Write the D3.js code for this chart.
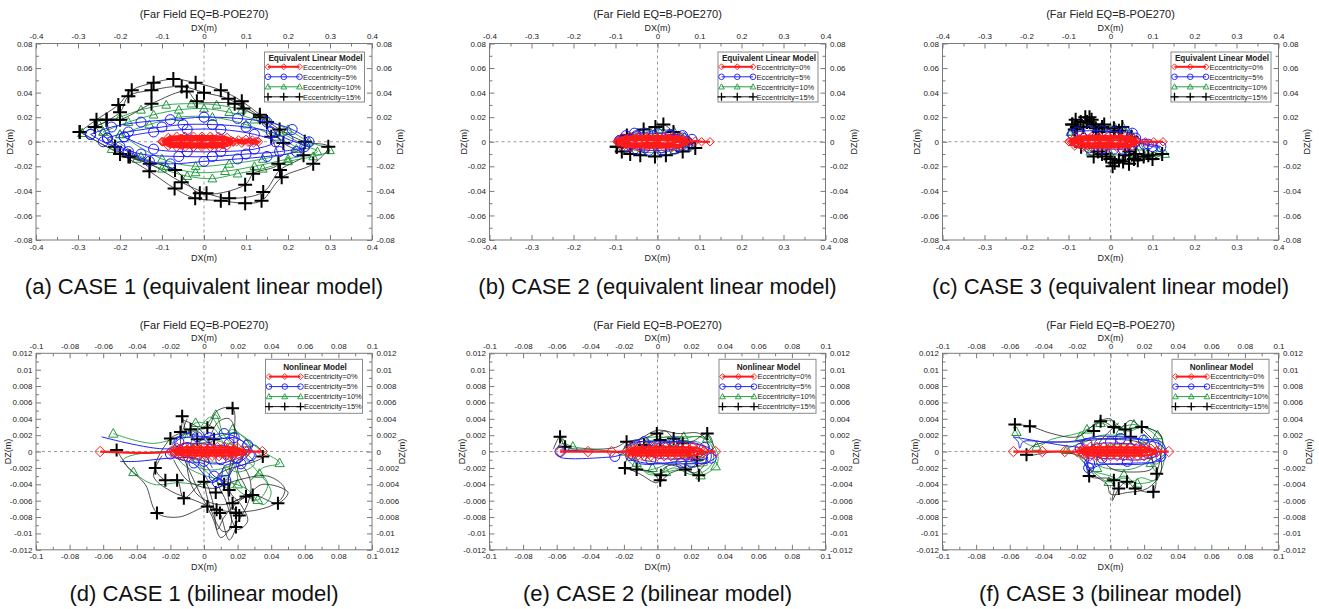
<!DOCTYPE html>
<html>
<head>
<meta charset="utf-8">
<script src="https://cdn.jsdelivr.net/npm/d3@7"></script>
<style>
  body { margin: 0; background: #fff; }
  svg { font-family: Arial, "Liberation Sans", sans-serif; }
</style>
</head>
<body>
<div id="chart"></div>
<script>
// ---- text ----
const figTitle = "(Far Field EQ=B-POE270)";
const captions = [
  "(a) CASE 1 (equivalent linear model)", "(b) CASE 2 (equivalent linear model)", "(c) CASE 3 (equivalent linear model)",
  "(d) CASE 1 (bilinear model)", "(e) CASE 2 (bilinear model)", "(f) CASE 3 (bilinear model)"
];
const legendTitles = ["Equivalent Linear Model", "Nonlinear Model"];
const seriesLabels = ["Eccentricity=0%", "Eccentricity=5%", "Eccentricity=10%", "Eccentricity=15%"];
const xLabel = "DX(m)", yLabel = "DZ(m)";

// ---- ticks ----
const xMajorEq = [-0.4, -0.3, -0.2, -0.1, 0, 0.1, 0.2, 0.3, 0.4];
const xMinorEq = [-0.35, -0.25, -0.15, -0.05, 0.05, 0.15, 0.25, 0.35];
const yMajorEq = [-0.08, -0.06, -0.04, -0.02, 0, 0.02, 0.04, 0.06, 0.08];
const yMinorEq = [-0.07, -0.05, -0.03, -0.01, 0.01, 0.03, 0.05, 0.07];
const xMajorNl = [-0.1, -0.08, -0.06, -0.04, -0.02, 0, 0.02, 0.04, 0.06, 0.08, 0.1];
const xMinorNl = [-0.09, -0.07, -0.05, -0.03, -0.01, 0.01, 0.03, 0.05, 0.07, 0.09];
const yMajorNl = [-0.012, -0.01, -0.008, -0.006, -0.004, -0.002, 0, 0.002, 0.004, 0.006, 0.008, 0.01, 0.012];
const yMinorNl = [-0.011, -0.009, -0.007, -0.005, -0.003, -0.001, 0.001, 0.003, 0.005, 0.007, 0.009, 0.011];

// ---- CASE 1, equivalent linear (DX, DZ in m) ----
const e1Red = [
  [[-0.1,0],[-0.085,0.0035],[-0.065,0.0045],[-0.045,0.0045],[-0.025,0.0045],[-0.005,0.0045],[0.015,0.0045],[0.035,0.0045],[0.055,0.0035],[0.07,0],
   [0.055,-0.0035],[0.035,-0.0045],[0.015,-0.0045],[-0.005,-0.0045],[-0.025,-0.0045],[-0.045,-0.0045],[-0.065,-0.0045],[-0.085,-0.0035],[-0.098,0],
   [-0.08,0.0022],[-0.055,0.0028],[-0.03,0.0028],[-0.005,0.0028],[0.02,0.0028],[0.045,0.0025],[0.065,0.001],[0.045,-0.0025],[0.02,-0.0028],
   [-0.005,-0.0028],[-0.03,-0.0028],[-0.055,-0.0028],[-0.08,-0.0022],[-0.095,0],[-0.07,0.001],[-0.04,0.0012],[-0.01,0.0012],[0.02,0.0012],
   [0.05,0.001],[0.068,0],[0.05,-0.001],[0.02,-0.0012],[-0.01,-0.0012],[-0.04,-0.0012],[-0.07,-0.001],[-0.1,0]],
  [[0.07,0],[0.082,0.0015],[0.092,0.0005],[0.1,0.002],[0.108,0],[0.115,0.0015],[0.125,0.0005],[0.13,0],[0.118,-0.001],[0.105,-0.0005],[0.09,-0.0012],[0.078,0]]
];
const e1Blue = [
  [[-0.27,0.006],[-0.22,0.012],[-0.15,0.016],[-0.08,0.018],[0,0.02],[0.08,0.019],[0.15,0.016],[0.21,0.01],[0.25,0],[0.22,-0.008],
   [0.15,-0.012],[0.08,-0.014],[0,-0.016],[-0.08,-0.018],[-0.13,-0.016],[-0.18,-0.008],[-0.24,0],[-0.27,0.006]],
  [[-0.23,0.003],[-0.18,0.008],[-0.1,0.012],[-0.05,0.014],[0.02,0.014],[0.1,0.012],[0.16,0.008],[0.2,0.002],[0.24,-0.004],[0.18,-0.008],
   [0.1,-0.01],[0.02,-0.012],[-0.06,-0.012],[-0.15,-0.01],[-0.2,-0.004],[-0.23,0.003]],
  [[-0.19,0.004],[-0.12,0.008],[-0.04,0.01],[0.04,0.01],[0.12,0.006],[0.17,0],[0.12,-0.006],[0.04,-0.008],[-0.04,-0.008],[-0.12,-0.006],[-0.19,0.004]]
];
const e1Green = [
  [[-0.29,0.007],[-0.25,0.014],[-0.2,0.02],[-0.15,0.026],[-0.09,0.03],[-0.03,0.031],[0.03,0.03],[0.09,0.026],[0.15,0.018],[0.2,0.01],[0.25,0],
   [0.3,-0.007],[0.26,-0.012],[0.2,-0.016],[0.14,-0.022],[0.08,-0.026],[0.02,-0.03],[-0.04,-0.028],[-0.1,-0.022],[-0.16,-0.014],[-0.22,-0.006],[-0.29,0.007]],
  [[-0.24,0.008],[-0.18,0.016],[-0.12,0.022],[-0.06,0.026],[0,0.027],[0.06,0.024],[0.12,0.018],[0.18,0.008],[0.24,-0.003],[0.27,-0.008],
   [0.2,-0.014],[0.12,-0.02],[0.05,-0.024],[-0.02,-0.025],[-0.09,-0.02],[-0.15,-0.012],[-0.24,0.008]],
  [[-0.2,0.006],[-0.13,0.014],[-0.06,0.02],[0.02,0.02],[0.1,0.014],[0.17,0.004],[0.22,-0.006],[0.14,-0.014],[0.06,-0.018],[-0.02,-0.02],[-0.1,-0.014],[-0.2,0.006]]
];
const e1Black = [
  [[-0.296,0.008],[-0.256,0.018],[-0.204,0.03],[-0.172,0.042],[-0.12,0.048],[-0.073,0.051],[-0.02,0.048],[0.04,0.042],[0.09,0.033],[0.133,0.022],
   [0.18,0.01],[0.24,0],[0.296,-0.004],[0.26,-0.018],[0.185,-0.029],[0.137,-0.048],[0.098,-0.05],[0.04,-0.048],[-0.021,-0.046],[-0.07,-0.038],
   [-0.13,-0.024],[-0.2,-0.01],[-0.296,0.008]],
  [[-0.26,0.012],[-0.2,0.024],[-0.18,0.037],[-0.125,0.042],[-0.053,0.045],[0,0.04],[0.058,0.035],[0.094,0.027],[0.15,0.016],[0.189,-0.001],
   [0.237,-0.011],[0.181,-0.023],[0.141,-0.041],[0.06,-0.046],[0.006,-0.042],[-0.053,-0.033],[-0.129,-0.018],[-0.18,-0.012],[-0.26,0.012]],
  [[-0.232,0.018],[-0.2,0.018],[-0.125,0.031],[-0.041,0.041],[-0.017,0.033],[0.073,0.031],[0.133,0.02],[0.16,0.004],[0.177,-0.018],[0.117,-0.026],
   [0.098,-0.035],[-0.01,-0.042],[-0.069,-0.023],[-0.176,-0.012],[-0.212,-0.004],[-0.232,0.018]]
];

// ---- CASE 2, equivalent linear ----
const e2Red = [
  [[-0.097,0],[-0.085,0.0035],[-0.065,0.0045],[-0.045,0.0045],[-0.025,0.0045],[-0.005,0.0045],[0.015,0.0045],[0.035,0.0045],[0.055,0.004],[0.074,0],
   [0.055,-0.004],[0.035,-0.0045],[0.015,-0.0045],[-0.005,-0.0045],[-0.025,-0.0045],[-0.045,-0.0045],[-0.065,-0.0045],[-0.085,-0.0035],[-0.095,0],
   [-0.075,0.0025],[-0.05,0.003],[-0.025,0.003],[0,0.003],[0.025,0.003],[0.05,0.0025],[0.07,0.001],[0.05,-0.0025],[0.025,-0.003],[0,-0.003],
   [-0.025,-0.003],[-0.05,-0.003],[-0.075,-0.0025],[-0.09,0],[-0.06,0.0012],[-0.03,0.0012],[0,0.0012],[0.03,0.0012],[0.06,0.001],[0.03,-0.0012],
   [0,-0.0012],[-0.03,-0.0012],[-0.06,-0.0012],[-0.093,0]],
  [[0.074,0],[0.09,0.0005],[0.105,0],[0.125,0]]
];
const e2Blue = [
  [[-0.09,0.001],[-0.075,0.005],[-0.055,0.007],[-0.03,0.007],[0,0.007],[0.03,0.006],[0.06,0.005],[0.082,0.002],[0.07,-0.003],[0.04,-0.006],
   [0.01,-0.007],[-0.02,-0.007],[-0.05,-0.006],[-0.075,-0.004],[-0.09,0.001]],
  [[-0.08,0.002],[-0.05,0.005],[-0.01,0.005],[0.03,0.005],[0.06,0.003],[0.07,0],[0.05,-0.004],[0.01,-0.005],[-0.03,-0.005],[-0.065,-0.003],[-0.08,0.002]]
];
const e2Green = [
  [[-0.085,-0.002],[-0.07,0.004],[-0.04,0.007],[-0.01,0.009],[0.01,0.01],[0.04,0.008],[0.065,0.004],[0.075,-0.002],[0.07,-0.005],[0.04,-0.007],
   [0,-0.009],[-0.04,-0.008],[-0.07,-0.005],[-0.085,-0.002]]
];
const e2Black = [
  [[-0.097,-0.004],[-0.073,0.005],[-0.033,0.01],[-0.005,0.012],[0.014,0.014],[0.038,0.008],[0.074,-0.001],[0.09,-0.005],[0.06,-0.008],
   [0.02,-0.011],[-0.006,-0.012],[-0.041,-0.011],[-0.065,-0.01],[-0.085,-0.008],[-0.097,-0.004]]
];

// ---- CASE 3, equivalent linear ----
const e3Red = [
  [[-0.099,0],[-0.085,0.0035],[-0.065,0.0045],[-0.045,0.0045],[-0.025,0.0045],[-0.005,0.0045],[0.015,0.0045],[0.035,0.0045],[0.052,0.0035],[0.063,0],
   [0.052,-0.0035],[0.035,-0.0045],[0.015,-0.0045],[-0.005,-0.0045],[-0.025,-0.0045],[-0.045,-0.0045],[-0.065,-0.0045],[-0.085,-0.0035],[-0.094,0],
   [-0.074,0.0025],[-0.05,0.003],[-0.025,0.003],[0,0.003],[0.025,0.003],[0.05,0.002],[0.06,0.001],[0.045,-0.0025],[0.02,-0.003],[-0.005,-0.003],
   [-0.03,-0.003],[-0.055,-0.003],[-0.074,-0.002],[-0.09,0],[-0.06,0.0012],[-0.03,0.0012],[0,0.0012],[0.03,0.0012],[0.055,0.001],[0.03,-0.0012],
   [0,-0.0012],[-0.03,-0.0012],[-0.06,-0.0012],[-0.099,0]],
  [[0.063,0],[0.083,0],[0.103,0],[0.125,0]]
];
const e3Blue = [
  [[-0.09,0.006],[-0.079,0.008],[-0.05,0.009],[-0.02,0.009],[0.01,0.008],[0.035,0.008],[0.052,0.007],[0.06,0.003],[0.05,-0.003],[0.03,-0.006],
   [0.008,-0.006],[-0.02,-0.006],[-0.05,-0.005],[-0.075,-0.001],[-0.09,0.006]],
  [[0.05,0],[0.08,-0.002],[0.1,-0.004],[0.12,-0.004],[0.09,-0.002],[0.06,0]]
];
const e3Green = [
  [[-0.095,0.008],[-0.08,0.013],[-0.05,0.015],[-0.02,0.013],[0.01,0.012],[0.03,0.012],[0.05,0.006],[0.07,-0.004],[0.087,-0.01],[0.115,-0.008],
   [0.13,-0.01],[0.1,-0.012],[0.06,-0.013],[0.04,-0.012],[0,-0.01],[-0.048,-0.008],[-0.07,-0.002],[-0.095,0.008]]
];
const e3Black = [
  [[-0.091,0.014],[-0.083,0.018],[-0.071,0.016],[-0.056,0.016],[-0.04,0.014],[-0.028,0.008],[0.008,0.011],[0.028,0.012],[0.05,0.004],[0.079,-0.012],
   [0.123,-0.01],[0.1,-0.014],[0.056,-0.014],[0.044,-0.018],[0.02,-0.015],[0,-0.014],[-0.02,-0.01],[-0.04,-0.012],[-0.07,-0.004],[-0.091,0.014]],
  [[-0.08,0.012],[-0.06,0.02],[-0.045,0.018],[-0.02,0.012],[0.01,0.008],[0.04,0.002],[0.06,-0.01],[0.03,-0.016],[0.01,-0.017],[-0.01,-0.012]],
  [[-0.085,0.01],[-0.065,0.012],[-0.05,0.02],[-0.035,0.011],[-0.015,0.014],[0.02,0.009],[0.045,-0.008],[0.065,-0.015],[0.09,-0.011],[0.035,-0.011],[0.005,-0.02],[-0.03,-0.008]]
];

// ---- CASE 1, bilinear ----
const n1Red = [
  [[-0.0618,0],[-0.0195,0],[-0.016,0.0004],[-0.012,0.0005],[-0.008,0.0005],[-0.004,0.0005],[0,0.0005],[0.004,0.0005],[0.008,0.0005],[0.012,0.0005],
   [0.016,0.0005],[0.02,0.0004],[0.0253,0],[0.021,-0.0004],[0.017,-0.0005],[0.013,-0.0005],[0.009,-0.0005],[0.005,-0.0005],[0.001,-0.0005],
   [-0.003,-0.0005],[-0.007,-0.0005],[-0.011,-0.0005],[-0.015,-0.0004],[-0.018,0],[-0.014,0.0002],[-0.01,0.0002],[-0.006,0.0002],[-0.002,0.0002],
   [0.002,0.0002],[0.006,0.0002],[0.01,0.0002],[0.014,0.0002],[0.018,0.0002],[0.022,0],[0.018,-0.0002],[0.014,-0.0002],[0.01,-0.0002],
   [0.006,-0.0002],[0.002,-0.0002],[-0.002,-0.0002],[-0.006,-0.0002],[-0.01,-0.0002],[-0.014,-0.0002],[-0.017,0],[0.0253,0],[0.0347,0]]
];
const n1Blue = [
  [[-0.061,0.0018],[-0.02,0.0004],[-0.015,0.0015],[-0.005,0.0018],[0.003,0.0017],[0.01,0.0016],[0.018,0.0017],[0.026,0.0008],[0.03,-0.0005],
   [0.025,-0.0015],[0.018,-0.002],[0.013,-0.0035],[0.006,-0.003],[0,-0.0015],[-0.01,-0.0012],[-0.02,-0.0003],[-0.015,0.0008],[-0.005,0.001],
   [0.005,0.0008],[0.015,0.0006],[0.025,-0.0002],[0.015,-0.0012],[0.005,-0.0015],[-0.005,-0.0008],[-0.02,-0.0008],[-0.04,-0.0012],[-0.05,-0.0012]],
  [[-0.018,0.001],[-0.012,0.0022],[0,0.0018],[0.012,0.0022],[0.022,0.0014],[0.027,0],[0.022,-0.0012],[0.012,-0.0018],[0.01,-0.0032],
   [0.004,-0.0038],[0,-0.0028],[-0.006,-0.0015],[-0.016,-0.0008],[-0.02,0]]
];
const n1BlueMarks = [[-0.02,-0.0003],[0.003,0.0017],[0.018,0.0017],[0.013,-0.0035],[0.006,-0.003],[0.026,0.0008],[0.01,-0.001],[-0.01,0.0005],
  [0.022,-0.0015],[0,-0.0012],[0.015,0.001],[-0.015,0.0012],[0.008,-0.0038],[0.028,-0.0005],[-0.006,-0.0014],[0.012,0.0022],[-0.004,0.0018],[0.02,-0.0008]];
const n1Green = [
  [[-0.054,0.0022],[-0.03,0.001],[-0.01,0.0022],[0,0.003],[0.007,0.0045],[0.012,0.002],[0.017,0.0027],[0.025,0.0015],[0.035,0],[0.045,-0.0014],
   [0.035,-0.002],[0.028,-0.0035],[0.033,-0.0027],[0.038,-0.004],[0.032,-0.0059],[0.022,-0.005],[0.012,-0.003],[0,-0.004],[-0.015,-0.0038],
   [-0.03,-0.004],[-0.042,-0.0025],[-0.048,-0.001],[-0.02,0],[-0.005,-0.001],[0.01,-0.0015],[0.02,-0.0025],[0.03,-0.0015],[0.02,0.0005],
   [0.01,0.0012],[0,0.0015],[-0.01,0],[0,-0.0022],[0.015,-0.0045],[0.02,-0.0035],[0.012,0.0008],[0.005,0.003],[-0.005,0.0035],[-0.012,0.0015]],
  [[-0.02,0.002],[-0.015,-0.001],[-0.005,-0.0025],[0.01,-0.0035],[0.025,-0.0045],[0.035,-0.0065],[0.04,-0.005],[0.03,-0.002],[0.02,0],
   [0.01,0.0025],[0.004,0.0042],[-0.002,0.003],[-0.008,0.0008],[-0.004,-0.0018],[0.008,-0.0022],[0.02,-0.0012],[0.028,0.0008],[0.02,0.0022],[0.008,0.0018]]
];
const n1GreenMarks = [[-0.054,0.0022],[-0.042,-0.0025],[0.007,0.0045],[0.045,-0.0014],[0.032,-0.0059],[-0.01,0.0022],[0.033,-0.0027],[0.017,0.0027],
  [0,0.0015],[0.025,0.001],[0.012,-0.0025],[0.02,-0.004],[-0.005,0.0035]];
const n1Black = [
  [[-0.052,0.0002],[-0.045,-0.002],[-0.035,-0.004],[-0.028,-0.0075],[-0.015,-0.008],[0.002,-0.0067],[0.0075,-0.0071],[0.0095,-0.0075],[0.015,-0.0108],
   [0.019,-0.0092],[0.019,-0.0075],[0.017,-0.0063],[0.025,-0.0055],[0.035,-0.004],[0.05,-0.005],[0.044,-0.0063],[0.029,-0.0053],[0.02,-0.0062],
   [0.012,-0.008],[0.008,-0.0095],[0.005,-0.006],[0,-0.0037],[-0.012,-0.0057],[-0.016,-0.0035],[-0.023,-0.0035],[-0.029,-0.002],[-0.02,0.0016],
   [-0.014,0.0024],[-0.013,0.0043],[-0.01,0.002],[-0.008,0.0027],[0.002,0.0029],[0.008,0.005],[0.017,0.0053],[0.018,0.002],[0.015,-0.0047],
   [0.022,-0.0065],[0.026,-0.0085],[0.02,-0.0095],[0.013,-0.006],[0.008,-0.003],[0.035,-0.0006],[0.03,0.0008],[0.02,-0.002],[0.025,-0.005],
   [0.01,-0.0065],[-0.005,-0.005],[-0.01,-0.001],[-0.005,0.001],[0.005,-0.002]],
  [[-0.01,0.004],[-0.014,0.001],[-0.005,-0.004],[0.005,-0.008],[0.01,-0.0105],[0.016,-0.009],[0.014,-0.004],[0.02,0.001],[0.015,0.004],
   [0.008,0.0035],[0,-0.002],[0.004,-0.007],[0.012,-0.0098],[0.022,-0.008],[0.028,-0.0045],[0.024,-0.002],[0.01,-0.0005],[-0.004,0.003],[-0.012,0.0038]],
  [[-0.025,-0.0005],[-0.03,-0.003],[-0.02,-0.0048],[-0.005,-0.006],[0.01,-0.0072],[0.03,-0.0072],[0.045,-0.006],[0.048,-0.0045],[0.038,-0.003],
   [0.02,-0.0035],[0.005,-0.0045],[-0.01,-0.0035],[-0.018,-0.001]]
];
const n1BlackMarks = [[-0.052,0.0002],[-0.013,0.0043],[-0.014,0.0024],[-0.008,0.0027],[-0.02,0.0016],[0.002,0.0029],[0.017,0.0053],[-0.029,-0.002],
  [-0.023,-0.0035],[-0.016,-0.0035],[-0.012,-0.0057],[-0.028,-0.0075],[0,-0.0037],[0.002,-0.0067],[0.0075,-0.0071],[0.0095,-0.0075],[0.015,-0.0047],
  [0.017,-0.0063],[0.019,-0.0075],[0.021,-0.0078],[0.019,-0.0092],[0.025,-0.0055],[0.029,-0.0053],[0.044,-0.0063],[0.035,-0.0006],[-0.004,0.0015],
  [0.006,0.0015],[0.012,-0.004],[0.007,-0.005]];

// ---- CASE 2, bilinear ----
const n2Red = [
  [[-0.058,0],[-0.0414,0],[-0.0274,0],[-0.0184,0],[-0.015,0.0004],[-0.011,0.0005],[-0.007,0.0005],[-0.003,0.0005],[0.001,0.0005],[0.005,0.0005],
   [0.009,0.0005],[0.013,0.0005],[0.017,0.0005],[0.021,0.0005],[0.025,0.0003],[0.0276,0],[0.024,-0.0004],[0.02,-0.0005],[0.016,-0.0005],
   [0.012,-0.0005],[0.008,-0.0005],[0.004,-0.0005],[0,-0.0005],[-0.004,-0.0005],[-0.008,-0.0005],[-0.012,-0.0005],[-0.016,-0.0003],[-0.017,0],
   [-0.013,0.0002],[-0.009,0.0002],[-0.005,0.0002],[-0.001,0.0002],[0.003,0.0002],[0.007,0.0002],[0.011,0.0002],[0.015,0.0002],[0.019,0.0002],
   [0.023,0.0001],[0.019,-0.0002],[0.015,-0.0002],[0.011,-0.0002],[0.007,-0.0002],[0.003,-0.0002],[-0.001,-0.0002],[-0.005,-0.0002],
   [-0.009,-0.0002],[-0.013,-0.0002],[-0.016,0],[0.0276,0],[0.0346,0]]
];
const n2Blue = [
  [[-0.06,-0.0002],[-0.058,-0.0007],[-0.03,-0.0007],[-0.0254,-0.0006],[-0.02,-0.0002],[-0.015,0.0008],[-0.01,0.0012],[0,0.0012],[0.01,0.0012],
   [0.02,0.001],[0.03,0.0005],[0.035,-0.0005],[0.03,-0.0013],[0.02,-0.0015],[0.01,-0.0015],[0,-0.0015],[-0.01,-0.0013],[-0.015,-0.0008],
   [-0.01,0.0005],[0.005,0.0006],[0.02,0.0004],[0.03,-0.0008],[0.015,-0.0009],[0,-0.0008],[-0.012,0],[-0.03,0],[-0.058,0.0002]],
  [[-0.02,0.0004],[-0.012,0.0012],[0,0.001],[0.014,0.0012],[0.026,0.0008],[0.032,-0.0004],[0.03,-0.0014],[0.018,-0.0012],[0.004,-0.0014],
   [-0.01,-0.0015],[-0.018,-0.0006]]
];
const n2BlueMarks = [[-0.0254,-0.0006],[-0.058,0],[-0.013,0.0008],[-0.004,-0.001],[0.01,0.0011],[0.02,-0.0013],[0.028,0.0005],[0.004,0.0005],
  [-0.016,-0.0005],[0.032,-0.0008],[-0.008,0.0012],[0.014,-0.0014]];
const n2Green = [
  [[-0.06,0.0002],[-0.0564,0.001],[-0.0504,0.0006],[-0.035,0.0002],[-0.019,0],[-0.0064,0.001],[0.005,0.0018],[0.0156,0.0018],[0.0296,0.0016],
   [0.036,-0.0005],[0.0346,-0.0018],[0.0256,-0.0029],[0.015,-0.0022],[0.005,-0.0025],[-0.005,-0.0028],[-0.0124,-0.0014],[-0.018,-0.0006],
   [-0.01,0.0004],[0,0.0008],[0.01,0.0004],[0.02,-0.0008],[0.03,-0.0016],[0.02,-0.0018],[0.01,-0.0012],[0,-0.002],[-0.01,-0.0022],
   [-0.015,0.0006],[-0.002,0.0014],[0.012,0.0012],[0.025,0.0011],[0.03,0],[0.022,-0.0005],[0.008,-0.001]],
  [[-0.019,0.0006],[-0.012,0.0014],[0,0.0018],[0.012,0.0015],[0.025,0.0018],[0.032,0.0008],[0.033,-0.0012],[0.028,-0.0024],[0.02,-0.0028],
   [0.01,-0.002],[0,-0.0027],[-0.012,-0.002],[-0.019,-0.0008]]
];
const n2GreenMarks = [[-0.0564,0.001],[-0.0504,0.0006],[-0.0194,0],[-0.0064,0.001],[-0.0124,-0.0014],[0.0256,-0.0029],[0.0346,-0.0018],[0.0156,0.0018],
  [0.0296,0.0016],[0.005,-0.0025],[-0.003,-0.002],[0.01,0.0012],[0.02,-0.001]];
const n2Black = [
  [[-0.062,0.0003],[-0.058,0.0018],[-0.055,0.0006],[-0.04,0.0003],[-0.025,0.0005],[-0.0184,0.0012],[-0.01,0.0015],[-0.0004,0.0022],[0.005,0.0025],
   [0.0096,0.0016],[0.02,0.0012],[0.0296,0.0022],[0.033,0.0005],[0.0236,-0.001],[0.0246,-0.0029],[0.0166,-0.0022],[0.008,-0.0026],[0.0016,-0.0035],
   [-0.003,-0.0025],[-0.0124,-0.0022],[-0.0194,-0.002],[-0.015,0],[-0.005,0.0006],[0.0016,0.0014],[0.01,0.0005],[0.02,-0.0004],[0.03,-0.001],
   [0.02,-0.002],[0.005,-0.0015],[-0.01,-0.001]],
  [[-0.02,-0.0018],[-0.01,-0.0028],[0,-0.0038],[0.004,-0.002],[0.012,-0.0016],[0.022,-0.0026],[0.028,-0.0015],[0.03,0.001],[0.025,0.0022],
   [0.012,0.0022],[0,0.0026],[-0.01,0.0016],[-0.02,0.0006]]
];
const n2BlackMarks = [[-0.058,0.0018],[-0.055,0.0006],[-0.0004,0.0022],[0.0016,-0.0035],[0.0296,0.0022],[-0.0194,-0.002],[-0.0124,-0.0022],
  [0.0166,-0.0022],[0.0236,-0.001],[0.0246,-0.0029],[-0.0184,0.0012],[0.0016,0.0014],[0.0096,0.0016],[0.002,-0.0029],[-0.008,0.0008],[0.015,0.001]];

// ---- CASE 3, bilinear ----
const n3Red = [
  [[-0.0578,0],[-0.0406,0],[-0.0272,0],[-0.0198,0],[-0.016,0.0004],[-0.012,0.0005],[-0.008,0.0005],[-0.004,0.0005],[0,0.0005],[0.004,0.0005],
   [0.008,0.0005],[0.012,0.0005],[0.016,0.0005],[0.02,0.0005],[0.024,0.0003],[0.0277,0],[0.024,-0.0004],[0.02,-0.0005],[0.016,-0.0005],
   [0.012,-0.0005],[0.008,-0.0005],[0.004,-0.0005],[0,-0.0005],[-0.004,-0.0005],[-0.008,-0.0005],[-0.012,-0.0005],[-0.016,-0.0003],[-0.018,0],
   [-0.014,0.0002],[-0.01,0.0002],[-0.006,0.0002],[-0.002,0.0002],[0.002,0.0002],[0.006,0.0002],[0.01,0.0002],[0.014,0.0002],[0.018,0.0002],
   [0.023,0.0001],[0.018,-0.0002],[0.014,-0.0002],[0.01,-0.0002],[0.006,-0.0002],[0.002,-0.0002],[-0.002,-0.0002],[-0.006,-0.0002],
   [-0.01,-0.0002],[-0.014,-0.0002],[-0.017,0],[0.0277,0],[0.0347,0]]
];
const n3Blue = [
  [[-0.058,0.0018],[-0.055,0.0012],[-0.054,0.0004],[-0.052,0.0012],[-0.04,0.0012],[-0.025,0.0012],[-0.015,0.0015],[0,0.0016],[0.0196,0.0014],
   [0.03,0.0008],[0.033,-0.0003],[0.028,-0.0012],[0.015,-0.0014],[0,-0.0015],[-0.0124,-0.0014],[-0.016,-0.0005],[-0.01,0.0008],[0.005,0.001],
   [0.02,0.0006],[0.028,-0.0004],[0.018,-0.001],[0.004,-0.0009],[-0.008,-0.0007],[-0.015,0.0003],[-0.03,0.0008],[-0.058,0.0018]],
  [[-0.018,0.0012],[-0.01,0.0018],[0.005,0.0018],[0.02,0.0015],[0.03,0.0012],[0.033,0],[0.025,-0.0013],[0.01,-0.0016],[-0.005,-0.0016],
   [-0.014,-0.0022],[-0.013,-0.0008],[-0.018,0.0012]]
];
const n3BlueMarks = [[-0.0124,-0.0014],[0.0196,0.0014],[0.022,-0.0002],[-0.014,0.001],[0,0.0012],[0.01,-0.0012],[0.026,0.0008],[-0.005,-0.0008],
  [0.012,0.0004],[-0.013,-0.002],[0.03,-0.0006],[0.006,0.0016],[-0.018,0.0004]];
const n3Green = [
  [[-0.058,0.003],[-0.056,0.0024],[-0.053,0.0014],[-0.044,0.0006],[-0.035,0.0015],[-0.02,0.0022],[-0.014,0.0027],[-0.006,0.0035],[0.002,0.0028],
   [0.014,0.0033],[0.024,0.0025],[0.03,0.0008],[0.028,-0.0015],[0.024,-0.0014],[0.028,-0.0032],[0.016,-0.0039],[0.008,-0.003],[-0.001,-0.0037],
   [-0.01,-0.0025],[-0.02,-0.0005],[-0.026,0.0002],[-0.015,0.0012],[-0.005,0.002],[0.008,0.0018],[0.02,0.0012],[0.025,-0.0005],[0.015,-0.002],
   [0.004,-0.0022],[-0.008,-0.0015],[-0.005,0.0005],[0.01,0.0008]],
  [[-0.02,0.0015],[-0.01,0.0032],[0,0.0038],[0.01,0.0025],[0.02,0.003],[0.03,0.0018],[0.032,-0.001],[0.026,-0.0035],[0.018,-0.0032],
   [0.01,-0.004],[0,-0.003],[-0.012,-0.0022],[-0.02,0]]
];
const n3GreenMarks = [[-0.056,0.0024],[-0.044,0.0006],[-0.026,0.0002],[-0.014,0.0027],[-0.006,0.0035],[0.014,0.0033],[-0.001,-0.0037],[0.016,-0.0039],
  [0.024,-0.0014],[0.006,0.0025],[-0.008,-0.002],[0.02,0.0015],[0.008,-0.0028],[0.028,0.002],[-0.018,0.0018]];
const n3Black = [
  [[-0.0569,0.0033],[-0.048,0.0031],[-0.035,0.0022],[-0.02,0.0018],[-0.0059,0.0037],[0.002,0.003],[0.0088,0.0027],[0.0186,0.003],[0.03,0.002],
   [0.03,-0.0005],[0.0275,-0.0027],[0.0255,-0.0049],[0.0147,-0.0045],[0.0098,-0.0037],[0.0049,-0.0045],[0.001,-0.006],[0.002,-0.0035],
   [-0.0127,-0.003],[-0.015,-0.001],[-0.03,0],[-0.05,-0.0004],[-0.045,0.0008],[-0.02,0.0012],[0,0.0015],[0.02,0.0008],[0.025,-0.002],
   [0.012,-0.0025],[0,-0.002],[-0.008,0.0004],[0.005,0.0035]],
  [[-0.01,0.0035],[0,0.004],[0.005,0.0028],[0.012,0.0038],[0.02,0.0025],[0.028,0.0005],[0.03,-0.0025],[0.022,-0.0045],[0.01,-0.005],
   [0,-0.0052],[-0.002,-0.004],[-0.01,-0.0028],[-0.014,-0.001],[-0.008,0.0015]]
];
const n3BlackMarks = [[-0.0569,0.0033],[-0.048,0.0031],[-0.05,-0.0004],[-0.0127,-0.003],[-0.0059,0.0037],[0.002,0.003],[0.0088,0.0027],[0.0186,0.003],
  [0.002,-0.0035],[0.0049,-0.0045],[0.0147,-0.0045],[0.0255,-0.0049],[0.0275,-0.0027],[0.0098,-0.0037],[-0.01,0.0025],[0.012,0.0018]];

// ---- layout ----
const width = 1319, height = 609;
const frameW = 336, frameH = 196.5;
const colLeft = [36, 489.5, 942.5];
const rowTop = [43.5, 353.3];

const colors = ["#ff1a1a", "#1a1aff", "#1e9a3c", "#000000"];
const lineColors = ["#ff1a1a", "#2323ff", "#22a040", "#222222"];
const lineWidths = [2.2, 1, 0.9, 0.8];

const panels = [
  {nl: 0, series: [e1Red, e1Blue, e1Green, e1Black], marks: [null, null, null, null]},
  {nl: 0, series: [e2Red, e2Blue, e2Green, e2Black], marks: [null, null, null, null]},
  {nl: 0, series: [e3Red, e3Blue, e3Green, e3Black], marks: [null, null, null, null]},
  {nl: 1, series: [n1Red, n1Blue, n1Green, n1Black], marks: [null, n1BlueMarks, n1GreenMarks, n1BlackMarks]},
  {nl: 1, series: [n2Red, n2Blue, n2Green, n2Black], marks: [null, n2BlueMarks, n2GreenMarks, n2BlackMarks]},
  {nl: 1, series: [n3Red, n3Blue, n3Green, n3Black], marks: [null, n3BlueMarks, n3GreenMarks, n3BlackMarks]}
];

const fmt = d => String(+d.toFixed(4));

// marker shapes: 0 diamond, 1 circle, 2 triangle, 3 plus
function shape(k, s) {
  if (k === 0) return `M0,${-s}L${s},0L0,${s}L${-s},0Z`;
  if (k === 1) return d3.symbol(d3.symbolCircle, Math.PI * s * s)();
  if (k === 2) return `M0,${-s}L${s * 0.95},${s * 0.72}L${-s * 0.95},${s * 0.72}Z`;
  return `M${-s},0H${s}M0,${-s}V${s}`;
}

const svg = d3.select("#chart").append("svg")
    .attr("width", width)
    .attr("height", height);

svg.append("rect").attr("width", width).attr("height", height).attr("fill", "#fff");

panels.forEach((p, i) => {
  const nl = p.nl;
  const left = colLeft[i % 3], top = rowTop[nl];
  const right = left + frameW, bottom = top + frameH;
  const cx = left + frameW / 2;

  const x = d3.scaleLinear().domain(nl ? [-0.1, 0.1] : [-0.4, 0.4]).range([left, right]);
  const y = d3.scaleLinear().domain(nl ? [-0.012, 0.012] : [-0.08, 0.08]).range([bottom, top]);
  const xMaj = nl ? xMajorNl : xMajorEq, xMin = nl ? xMinorNl : xMinorEq;
  const yMaj = nl ? yMajorNl : yMajorEq, yMin = nl ? yMinorNl : yMinorEq;

  const g = svg.append("g");

  // zero lines
  g.append("line").attr("x1", left).attr("x2", right).attr("y1", y(0)).attr("y2", y(0))
    .attr("stroke", "#9a9a9a").attr("stroke-dasharray", "3,3");
  g.append("line").attr("x1", x(0)).attr("x2", x(0)).attr("y1", top).attr("y2", bottom)
    .attr("stroke", "#9a9a9a").attr("stroke-dasharray", "3,3");

  // trajectories: green, black, blue, red on top
  const line = d3.line().x(d => x(d[0])).y(d => y(d[1])).curve(d3.curveCatmullRom.alpha(0.5));
  const sizes = nl ? [5.2, 5, 5, 6.5] : [4.2, 5, 4.6, 7];
  [2, 3, 1, 0].forEach(k => {
    const sg = g.append("g");
    sg.selectAll("path.trace").data(p.series[k]).join("path")
      .attr("class", "trace")
      .attr("d", line)
      .attr("fill", "none")
      .attr("stroke", lineColors[k])
      .attr("stroke-width", lineWidths[k]);
    const pts = p.marks[k] || p.series[k].flat();
    sg.selectAll("path.mark").data(pts).join("path")
      .attr("class", "mark")
      .attr("transform", d => `translate(${x(d[0])},${y(d[1])})`)
      .attr("d", shape(k, sizes[k]))
      .attr("fill", "none")
      .attr("stroke", colors[k])
      .attr("stroke-width", k === 3 ? 2 : 1);
  });

  // frame
  g.append("rect").attr("x", left).attr("y", top).attr("width", frameW).attr("height", frameH)
    .attr("fill", "none").attr("stroke", "#7a7a7a").attr("stroke-width", 1);

  // axes, ticks pointing inward
  const axisDefs = [
    [d3.axisTop(x), `translate(0,${top})`, xMaj, xMin, 4.5],
    [d3.axisBottom(x), `translate(0,${bottom})`, xMaj, xMin, 4],
    [d3.axisLeft(y), `translate(${left},0)`, yMaj, yMin, 3.5],
    [d3.axisRight(y), `translate(${right},0)`, yMaj, yMin, 4.5]
  ];
  axisDefs.forEach(([ax, tr, maj, min, pad]) => {
    const ga = g.append("g").attr("transform", tr)
      .call(ax.tickValues(maj).tickSize(-5).tickPadding(pad).tickFormat(fmt));
    ga.select(".domain").remove();
    ga.selectAll("line").attr("stroke", "#7a7a7a");
    ga.selectAll("text").attr("font-size", 8).attr("fill", "#222")
      .attr("font-family", "Arial, 'Liberation Sans', sans-serif");
    const gm = g.append("g").attr("transform", tr)
      .call(ax.tickValues(min).tickSize(-3).tickFormat(""));
    gm.select(".domain").remove();
    gm.selectAll("line").attr("stroke", "#7a7a7a");
  });

  // titles and labels
  g.append("text").attr("x", cx).attr("y", top - (nl ? 24.5 : 25.5))
    .attr("text-anchor", "middle").attr("font-size", 11).attr("fill", "#222").text(figTitle);
  g.append("text").attr("x", cx).attr("y", top - 12.5)
    .attr("text-anchor", "middle").attr("font-size", 9).attr("fill", "#222").text(xLabel);
  g.append("text").attr("x", cx).attr("y", bottom + 20.5)
    .attr("text-anchor", "middle").attr("font-size", 9).attr("fill", "#222").text(xLabel);
  [left - (nl ? 28 : 26), right + (nl ? 30 : 28)].forEach(lx => {
    g.append("text")
      .attr("transform", `translate(${lx + 3},${(top + bottom) / 2}) rotate(-90)`)
      .attr("text-anchor", "middle").attr("font-size", 9).attr("fill", "#222").text(yLabel);
  });
  g.append("text").attr("x", cx).attr("y", nl ? 601 : 293.5)
    .attr("text-anchor", "middle").attr("font-size", 22).attr("fill", "#111").text(captions[i]);

  // legend
  const lw = nl ? 97 : 100, lh = nl ? 54 : 50;
  const lx = right - (nl ? 9.5 : 7.5) - lw, ly = top + (nl ? 6 : 8.5);
  const lg = g.append("g");
  lg.append("rect").attr("x", lx).attr("y", ly).attr("width", lw).attr("height", lh)
    .attr("fill", "#fff").attr("stroke", "#8a8a8a").attr("stroke-width", 1);
  lg.append("text").attr("x", lx + lw / 2 + 1).attr("y", top + 17)
    .attr("text-anchor", "middle").attr("font-size", 8.2).attr("font-weight", "bold")
    .attr("fill", "#222").text(legendTitles[nl]);
  const legSizes = [3, 2.8, 3, 4];
  seriesLabels.forEach((lab, k) => {
    const yy = top + 23.3 + k * 10;
    const x0 = lx + 3.5, x1 = lx + 35;
    lg.append("line").attr("x1", x0).attr("x2", x1).attr("y1", yy).attr("y2", yy)
      .attr("stroke", lineColors[k]).attr("stroke-width", k === 0 ? 2 : 1);
    [x0, (x0 + x1) / 2, x1].forEach(mx => {
      lg.append("path").attr("transform", `translate(${mx},${yy})`)
        .attr("d", shape(k, legSizes[k])).attr("fill", "none")
        .attr("stroke", colors[k]).attr("stroke-width", k === 3 ? 1.3 : 0.9);
    });
    lg.append("text").attr("x", lx + 38.5).attr("y", yy + 2.7)
      .attr("font-size", 7.5).attr("fill", "#222").text(lab);
  });
});
</script>
</body>
</html>
